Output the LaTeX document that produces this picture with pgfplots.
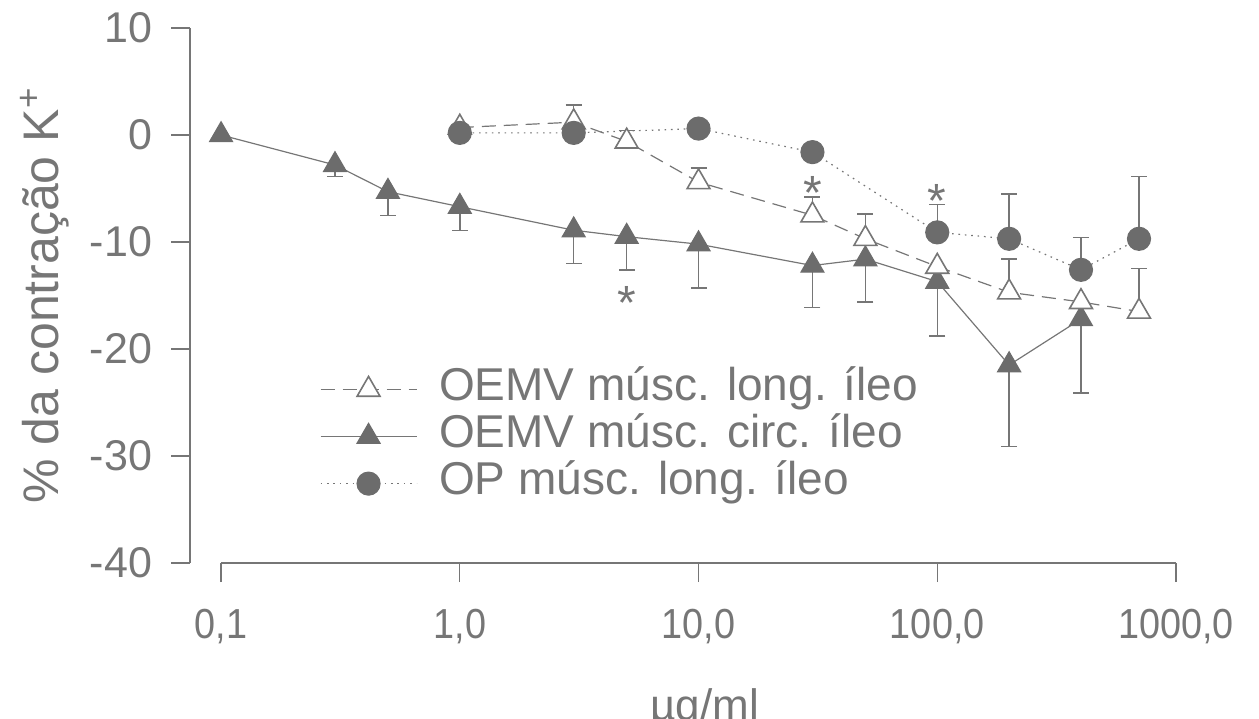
\documentclass[border=0pt]{standalone}
\usepackage{fontspec}
\setmainfont{Liberation Sans}
\newfontfamily\narrowfont[FakeStretch=0.9]{Liberation Sans}
\usepackage{pgfplots}
\pgfplotsset{compat=1.18}
\definecolor{ink}{RGB}{118,118,118}
\definecolor{mk}{RGB}{108,108,108}
\begin{document}
\begin{tikzpicture}
\begin{axis}[
  at={(0,0)}, anchor=south west,
  scale only axis, width=493pt, height=267.5pt,
  xmode=log, xmin=0.0741, xmax=1000, ymin=-40, ymax=10,
  clip=false,
  axis x line*=bottom, axis y line*=left,
  x axis line style={draw=none}, y axis line style={draw=none},
  xtick={0.1,1,10,100,1000},
  xticklabels={{0,1},{1,0},{10,0},{100,0},{1000,0}},
  ytick={-40,-30,-20,-10,0,10},
  yticklabels={-40,-30,-20,-10,0,10},
  xminorticks=false,
  tick align=outside, major tick length=9.5pt,
  every tick/.style={ink, line width=0.6pt},
  xticklabel style={font=\narrowfont\fontsize{21}{21}\selectfont, text=ink, anchor=north, yshift=-10pt},
  yticklabel style={font=\fontsize{21.5}{21.5}\selectfont, text=ink, anchor=east, xshift=-6pt},
  xlabel={µg/ml},
  xlabel style={at={(axis description cs:0.522,0)}, anchor=base, yshift=-78.5pt, font=\fontsize{22}{22}\selectfont, text=ink},
  ylabel={\% da contração K\textsuperscript{+}},
  ylabel style={at={(axis description cs:-0.147,0.5)}, anchor=center, font=\fontsize{25}{25}\selectfont, text=ink},
  legend style={draw=none, fill=none, font=\fontsize{23}{23}\selectfont, text=ink,
    at={(axis description cs:0.1318,0.368)}, anchor=north west,
    inner sep=0pt, outer sep=0pt, row sep=0pt, column sep=11pt,
    nodes={inner sep=0pt, text height=17pt, text depth=6.5pt}},
  legend cell align=left,
  legend image code/.code={\draw[mark repeat=2,mark phase=2,#1] plot coordinates {(0pt,0pt)(24pt,0pt)(48pt,0pt)};},
]
% error bars (drawn first, under the marks)
\addplot[forget plot, only marks, mark=none, ink,
  error bars/.cd, y dir=minus, y explicit,
  error bar style={draw=ink, line width=0.7pt},
  error mark options={rotate=90, draw=ink, mark size=4pt, line width=0.7pt}]
  coordinates {
  (0.3,-2.8) +- (0,1.1)
  (0.5,-5.3) +- (0,2.2)
  (1,-6.7) +- (0,2.2)
  (3,-8.9) +- (0,3.1)
  (5,-9.5) +- (0,3.1)
  (10,-10.2) +- (0,4.1)
  (30,-12.2) +- (0,3.9)
  (50,-11.6) +- (0,4.0)
  (100,-13.7) +- (0,5.1)
  (200,-21.5) +- (0,7.6)
  (400,-17.2) +- (0,6.9)
  };
\addplot[forget plot, only marks, mark=none, ink,
  error bars/.cd, y dir=plus, y explicit,
  error bar style={draw=ink, line width=0.7pt},
  error mark options={rotate=90, draw=ink, mark size=4pt, line width=0.7pt}]
  coordinates {
  (3,1.2) +- (0,1.6)
  (5,-0.6) +- (0,1.0)
  (10,-4.4) +- (0,1.3)
  (30,-7.5) +- (0,1.7)
  (50,-9.7) +- (0,2.3)
  (200,-14.7) +- (0,3.1)
  (700,-16.5) +- (0,4.0)
  };
\addplot[forget plot, only marks, mark=none, ink,
  error bars/.cd, y dir=plus, y explicit,
  error bar style={draw=ink, line width=0.7pt},
  error mark options={rotate=90, draw=ink, mark size=4pt, line width=0.7pt}]
  coordinates {
  (100,-9.1) +- (0,2.6)
  (200,-9.7) +- (0,4.2)
  (400,-12.6) +- (0,3.0)
  (700,-9.7) +- (0,5.8)
  };
% legend entries
\addlegendimage{ink, line width=0.6pt, dash pattern=on 7pt off 4pt, mark=triangle*, mark size=6.6pt, mark options={solid, fill=white, draw=ink, line width=0.8pt}}
\addlegendentry{OEMV músc. long. íleo}
\addlegendimage{ink, line width=0.6pt, mark=triangle*, mark size=6.6pt, mark options={solid, fill=mk, draw=mk}}
\addlegendentry{OEMV músc. circ. íleo}
\addlegendimage{ink, line width=0.6pt, dash pattern=on 0.8pt off 2.4pt, mark=*, mark size=5.75pt, mark options={solid, fill=mk, draw=mk}}
\addlegendentry{OP músc. long. íleo}
% filled triangles
\addplot[forget plot, ink, line width=0.6pt, mark=triangle*, mark size=6.6pt, mark options={solid, fill=mk, draw=mk}]
  coordinates {(0.1,0) (0.3,-2.8) (0.5,-5.3) (1,-6.7) (3,-8.9) (5,-9.5) (10,-10.2) (30,-12.2) (50,-11.6) (100,-13.7) (200,-21.5) (400,-17.2)};
% open triangles
\addplot[forget plot, ink, line width=0.6pt, dash pattern=on 7pt off 4pt, mark=triangle*, mark size=6.6pt, mark options={solid, fill=white, draw=ink, line width=0.8pt}]
  coordinates {(1,0.7) (3,1.2) (5,-0.6) (10,-4.4) (30,-7.5) (50,-9.7) (100,-12.3) (200,-14.7) (400,-15.6) (700,-16.5)};
% circles
\addplot[forget plot, ink, line width=0.6pt, dash pattern=on 0.8pt off 2.4pt, mark=*, mark size=5.75pt, mark options={solid, fill=mk, draw=mk}]
  coordinates {(1,0.2) (3,0.2) (10,0.6) (30,-1.6) (100,-9.1) (200,-9.7) (400,-12.6) (700,-9.7)};
% axis lines
\draw[ink, line width=0.7pt] (axis cs:0.0741,10) -- (axis cs:0.0741,-40);
\draw[ink, line width=0.7pt] (axis cs:0.1,-40) -- (axis cs:1000,-40);
% significance marks
\node[text=ink, anchor=base, yshift=-13.75pt, inner sep=0pt, font=\fontsize{24}{24}\selectfont] at (axis cs:5,-14.7) {*};
\node[text=ink, anchor=base, yshift=-13.75pt, inner sep=0pt, font=\fontsize{24}{24}\selectfont] at (axis cs:30,-4.4) {*};
\node[text=ink, anchor=base, yshift=-13.75pt, inner sep=0pt, font=\fontsize{24}{24}\selectfont] at (axis cs:100,-5.1) {*};
\end{axis}
\pgfresetboundingbox
\path[use as bounding box] (-95pt,-77.5pt) rectangle (534.5pt,281.5pt);
\end{tikzpicture}
\end{document}
